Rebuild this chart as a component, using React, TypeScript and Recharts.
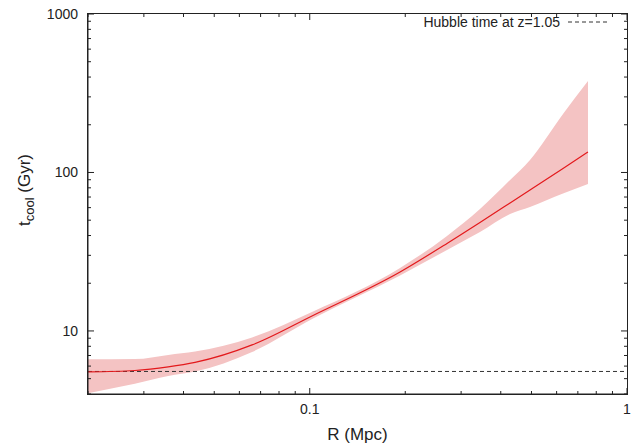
import React from 'react';
import { ComposedChart, Area, Line, XAxis, YAxis, ReferenceLine, Legend } from 'recharts';

// cooling time profile: radius (Mpc), best fit and 1-sigma envelope (Gyr)
const radius = [0.02, 0.0281, 0.0358, 0.0435, 0.0658, 0.1024, 0.1926, 0.2708, 0.344, 0.428, 0.4946, 0.6285, 0.7534];
const tcool = [5.51, 5.63, 5.93, 6.33, 8.16, 12.53, 23.56, 35.66, 48.36, 64.2, 77.5, 106.0, 134.7];
const tcoolHigh = [6.63, 6.65, 7.06, 7.42, 9.1, 13.27, 24.98, 39.76, 58.85, 89.7, 119.9, 233.9, 377.9];
const tcoolLow = [4.05, 4.64, 5.19, 5.54, 7.37, 11.99, 22.39, 32.43, 42.13, 54.73, 60.58, 73.72, 84.6];

const HUBBLE_TIME = 5.55;
const HUBBLE_LABEL = 'Hubble time at z=1.05';

const X_MIN = 0.02;
const X_MAX = 1;
const Y_MIN = 4;
const Y_MAX = 1000;
const xTicks = [0.02, 0.03, 0.04, 0.05, 0.06, 0.07, 0.08, 0.09, 0.1, 0.2, 0.3, 0.4, 0.5, 0.6, 0.7, 0.8, 0.9, 1];
const yTicks = [4, 5, 6, 7, 8, 9, 10, 20, 30, 40, 50, 60, 70, 80, 90, 100, 200, 300, 400, 500, 600, 700, 800, 900, 1000];

const rows = radius.map((r, i) => ({
  r,
  tcool: tcool[i],
  band: [tcoolLow[i], tcoolHigh[i]],
}));

// chart box
const W = 643;
const H = 443;
const MARGIN = { top: 14, right: 16, bottom: 0, left: 0 };
const X_AXIS_H = 49;
const Y_AXIS_W = 88;
const PLOT_W = W - MARGIN.left - MARGIN.right - Y_AXIS_W;
const PLOT_H = H - MARGIN.top - MARGIN.bottom - X_AXIS_H;

const FONT = '"Liberation Sans", Arial, Helvetica, sans-serif';
const INK = '#222';

const isDecade = (v: number) => Math.abs(Math.log10(v) - Math.round(Math.log10(v))) < 1e-6;
const tickLen = (v: number) => (isDecade(v) ? 6 : 3);

// bottom ticks point inward and are mirrored on the top edge
const BottomTick = (props: any) => {
  const { x, y, payload } = props;
  const v = payload.value;
  const top = y - PLOT_H;
  return (
    <g>
      <line x1={x} x2={x} y1={y} y2={y - tickLen(v)} stroke={INK} />
      <line x1={x} x2={x} y1={top} y2={top + tickLen(v)} stroke={INK} />
      {isDecade(v) && (
        <text x={x} y={y + 20} textAnchor="middle" fontSize={14} fontFamily={FONT} fill={INK}>
          {String(v)}
        </text>
      )}
    </g>
  );
};

// left ticks point inward and are mirrored on the right edge
const LeftTick = (props: any) => {
  const { x, y, payload } = props;
  const v = payload.value;
  const right = x + PLOT_W;
  return (
    <g>
      <line x1={x} x2={x + tickLen(v)} y1={y} y2={y} stroke={INK} />
      <line x1={right} x2={right - tickLen(v)} y1={y} y2={y} stroke={INK} />
      {isDecade(v) && (
        <text x={x - 10} y={y + 5} textAnchor="end" fontSize={14} fontFamily={FONT} fill={INK}>
          {String(v)}
        </text>
      )}
    </g>
  );
};

const XTitle = (props: any) => {
  const { viewBox } = props;
  return (
    <text x={viewBox.x + viewBox.width / 2} y={viewBox.y + 46} textAnchor="middle" fontSize={17} fontFamily={FONT} fill={INK}>
      R (Mpc)
    </text>
  );
};

const YTitle = (props: any) => {
  const { viewBox } = props;
  const cx = 30;
  const cy = viewBox.y + viewBox.height / 2 - 14;
  return (
    <text transform={`rotate(-90, ${cx}, ${cy})`} x={cx} y={cy} textAnchor="middle" fontSize={17} fontFamily={FONT} fill={INK}>
      t
      <tspan fontSize={13} dy={4}>cool</tspan>
      <tspan dy={-4}> (Gyr)</tspan>
    </text>
  );
};

const HubbleKey = () => (
  <div style={{ display: 'flex', alignItems: 'center', fontFamily: FONT, fontSize: 14, color: INK, lineHeight: '16px' }}>
    <span>{HUBBLE_LABEL}</span>
    <svg width={48} height={10}>
      <line x1={8} x2={48} y1={5} y2={5} stroke="#333" strokeDasharray="4 3" />
    </svg>
  </div>
);

export default function App() {
  return (
    <div style={{ position: 'absolute', left: 0, top: 0, width: W, height: H, background: '#fff' }}>
      <ComposedChart width={W} height={H} data={rows} margin={MARGIN}>
        <Area
          dataKey="band"
          type="monotone"
          fill="#f4c3c3"
          fillOpacity={1}
          stroke="none"
          legendType="none"
          isAnimationActive={false}
        />
        <ReferenceLine y={HUBBLE_TIME} stroke="#333" strokeDasharray="4 3" />
        <Line
          dataKey="tcool"
          type="monotone"
          stroke="#e3191c"
          strokeWidth={1.2}
          dot={false}
          legendType="none"
          isAnimationActive={false}
        />
        <XAxis
          dataKey="r"
          type="number"
          scale="log"
          domain={[X_MIN, X_MAX]}
          allowDataOverflow
          ticks={xTicks}
          interval={0}
          tickSize={0}
          tickMargin={0}
          tickLine={false}
          axisLine={{ stroke: INK }}
          height={X_AXIS_H}
          tick={<BottomTick />}
          label={<XTitle />}
        />
        <YAxis
          type="number"
          scale="log"
          domain={[Y_MIN, Y_MAX]}
          allowDataOverflow
          ticks={yTicks}
          interval={0}
          tickSize={0}
          tickMargin={0}
          tickLine={false}
          axisLine={{ stroke: INK }}
          width={Y_AXIS_W}
          tick={<LeftTick />}
          label={<YTitle />}
        />
        <Legend
          layout="horizontal"
          verticalAlign="middle"
          align="center"
          content={<HubbleKey />}
          wrapperStyle={{ top: 14, right: 35, left: 'auto', width: 'auto', height: 'auto' }}
        />
      </ComposedChart>
      {/* plot frame, laid over the chart */}
      <div
        style={{
          position: 'absolute',
          left: MARGIN.left + Y_AXIS_W - 1,
          top: MARGIN.top - 1,
          width: PLOT_W + 2,
          height: PLOT_H + 2,
          boxSizing: 'border-box',
          border: `1px solid ${INK}`,
          pointerEvents: 'none',
        }}
      />
    </div>
  );
}
